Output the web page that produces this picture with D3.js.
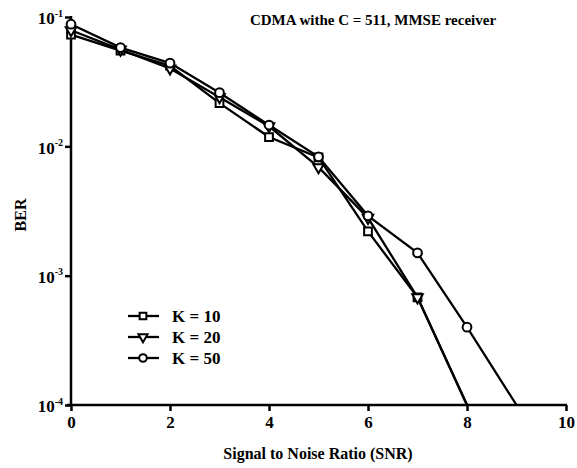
<!DOCTYPE html>
<html>
<head>
<meta charset="utf-8">
<script src="https://cdn.jsdelivr.net/npm/d3@7"></script>
<style>
  body { margin: 0; background: #fff; }
</style>
</head>
<body>
<div id="chart"></div>
<script>
// data
var snr = [0, 1, 2, 3, 4, 5, 6, 7, 8, 9];
var k10 = [0.073, 0.055, 0.042, 0.0216, 0.0118, 0.0082, 0.0022, 0.00068, 0.0001];
var k20 = [0.079, 0.056, 0.040, 0.024, 0.0143, 0.0069, 0.0028, 0.00068, 0.0001];
var k50 = [0.088, 0.058, 0.044, 0.026, 0.0146, 0.0083, 0.0029, 0.0015, 0.0004, 0.0001];
var seriesNames = ["K = 10", "K = 20", "K = 50"];
var xTicks = [0, 2, 4, 6, 8, 10];
var yTicks = [1e-1, 1e-2, 1e-3, 1e-4];

var width = 577, height = 468;
var margin = {top: 17, right: 11, bottom: 63, left: 71};
var serif = "Liberation Serif";

var svg = d3.select("#chart")
  .append("svg")
    .attr("width", width)
    .attr("height", height);

var x = d3.scaleLinear()
  .domain([0, 10])
  .range([margin.left, width - margin.right]);

var y = d3.scaleLog()
  .domain([1e-4, 1e-1])
  .range([height - margin.bottom, margin.top]);

function txt(sel, size) {
  return sel.style("font-family", serif)
    .style("font-weight", "bold")
    .style("font-size", size + "px")
    .attr("fill", "#000");
}

// axes
var xAxis = svg.append("g")
  .attr("transform", "translate(0," + (height - margin.bottom) + ")")
  .call(d3.axisBottom(x).tickValues(xTicks).tickSize(6).tickSizeOuter(0).tickFormat(d3.format("d")));
xAxis.select(".domain").attr("stroke-width", 2.5).attr("d", "M" + (margin.left - 4) + ",0H" + (width - margin.right + 1));
xAxis.selectAll(".tick line").attr("stroke-width", 2.5);
txt(xAxis.selectAll(".tick text"), 17).attr("dy", "0.85em");

var yAxis = svg.append("g")
  .attr("transform", "translate(" + margin.left + ",0)")
  .call(d3.axisLeft(y).tickValues(yTicks).tickSize(6).tickSizeOuter(0).tickFormat(""));
yAxis.select(".domain").attr("stroke-width", 2.5).attr("d", "M0," + (height - margin.bottom + 1) + "V" + (margin.top - 1));
yAxis.selectAll(".tick line").attr("stroke-width", 2.5);

// y tick labels as 10 with superscript
yAxis.selectAll(".tick").each(function(d) {
  var t = txt(d3.select(this).append("text"), 17)
    .attr("x", -8)
    .attr("dy", "0.4em")
    .attr("text-anchor", "end");
  t.append("tspan").text("10");
  t.append("tspan")
    .style("font-size", "10px")
    .attr("dy", "-0.75em")
    .text(Math.round(Math.log10(d)));
});

// titles
txt(svg.append("text"), 15)
  .attr("x", 373)
  .attr("y", 25)
  .attr("text-anchor", "middle")
  .text("CDMA withe C = 511, MMSE receiver");

txt(svg.append("text"), 16)
  .attr("x", 318)
  .attr("y", 459)
  .attr("text-anchor", "middle")
  .text("Signal to Noise Ratio (SNR)");

txt(svg.append("text"), 16)
  .attr("transform", "translate(26,215) rotate(-90)")
  .attr("text-anchor", "middle")
  .text("BER");

// lines
var line = d3.line()
  .x(function(d, i) { return x(snr[i]); })
  .y(function(d) { return y(d); });

var allSeries = [k10, k20, k50];
var symbols = [d3.symbolSquare, d3.symbolTriangle, d3.symbolCircle];
var symSize = [60, 48, 60];

allSeries.forEach(function(s) {
  svg.append("path")
    .datum(s)
    .attr("fill", "none")
    .attr("stroke", "#000")
    .attr("stroke-width", 2.3)
    .attr("d", line);
});

function drawMarker(g, i, px, py, scale) {
  g.append("path")
    .attr("d", d3.symbol().type(symbols[i]).size(symSize[i] * (scale || 1)))
    .attr("transform", "translate(" + px + "," + py + ")" + (i == 1 ? " rotate(180)" : ""))
    .attr("fill", "#fff")
    .attr("stroke", "#000")
    .attr("stroke-width", 2);
}

allSeries.forEach(function(s, i) {
  var g = svg.append("g");
  s.forEach(function(v, j) {
    if (v <= 1e-4) return; // line runs to axis, no marker there
    drawMarker(g, i, x(snr[j]), y(v));
  });
});

// legend
var legend = svg.append("g");
seriesNames.forEach(function(name, i) {
  var ly = 316 + i * 21;
  legend.append("line")
    .attr("x1", 128).attr("x2", 159)
    .attr("y1", ly).attr("y2", ly)
    .attr("stroke", "#000")
    .attr("stroke-width", 2.3);
  drawMarker(legend, i, 143, ly, 0.75);
  txt(legend.append("text"), 17)
    .attr("x", 172)
    .attr("y", ly)
    .attr("dy", "0.35em")
    .text(name);
});
</script>
</body>
</html>
